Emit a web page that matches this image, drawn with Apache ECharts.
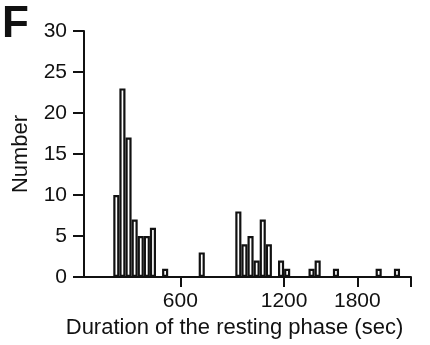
<!DOCTYPE html>
<html>
<head>
<meta charset="utf-8">
<script src="https://cdn.jsdelivr.net/npm/echarts@6/dist/echarts.min.js"></script>
<style>
html,body{margin:0;padding:0;background:#fff;}
#chart{width:430px;height:345px;}
</style>
</head>
<body>
<div id="chart"></div>
<script>
// Histogram bins (index of each bin along the duration axis) and counts
const binIndex = [0,1,2,3,4,5,6,7,8,9,10,11,12,13,14,15,16,17,18,19,20,21,22,23,24,25,26,27,28,29,30,31,32,33,34,35,36,37,38,39,40,41,42,43,44,45,46];
const counts   = [10,23,17,7,5,5,6,0,1,0,0,0,0,0,3,0,0,0,0,0,8,4,5,2,7,4,0,2,1,0,0,0,1,2,0,0,1,0,0,0,0,0,0,1,0,0,1];
// x tick positions (in bin units) and their labels
const xTickBins = [11, 28, 40];
const xTickLabels = ['600', '1200', '1800'];
const yTicks = [0, 5, 10, 15, 20, 25, 30];

const FONT = "'Liberation Sans', Arial, Helvetica, sans-serif";
const INK = '#111';

const barData = binIndex.map((b, i) => [b + 0.5, counts[i] === 0 ? null : counts[i]]);

const chart = echarts.init(document.getElementById('chart'));
chart.setOption({
  backgroundColor: '#fff',
  animation: false,
  graphic: [{
    type: 'text', left: 2, top: 3,
    style: { text: 'F', font: "bold 44px " + FONT, fill: INK }
  }],
  grid: { left: 84, right: 19, top: 31, bottom: 68, outerBoundsMode: 'none', containLabel: false },
  xAxis: {
    type: 'value',
    min: -4.8, max: 48.8,
    name: 'Duration of the resting phase (sec)',
    nameLocation: 'middle',
    nameGap: 39,
    nameTextStyle: { fontFamily: FONT, fontSize: 22, color: INK, padding: [0, 26, 0, 0] },
    axisLine: { show: true, onZero: false, lineStyle: { color: INK, width: 2 } },
    axisTick: { show: true, length: 10, customValues: xTickBins.concat([48.8]), lineStyle: { color: INK, width: 2 } },
    axisLabel: {
      customValues: xTickBins,
      fontFamily: FONT, fontSize: 21, color: INK, margin: 14,
      formatter: v => { const i = xTickBins.indexOf(v); return i >= 0 ? xTickLabels[i] : ''; }
    },
    splitLine: { show: false }
  },
  yAxis: {
    type: 'value',
    min: yTicks[0], max: yTicks[yTicks.length - 1], interval: 5,
    name: 'Number',
    nameLocation: 'middle',
    nameRotate: 90,
    nameGap: 52,
    nameTextStyle: { fontFamily: FONT, fontSize: 22, color: INK },
    axisLine: { show: true, onZero: false, lineStyle: { color: INK, width: 2 } },
    axisTick: { show: true, length: 11, lineStyle: { color: INK, width: 2 } },
    axisLabel: { fontFamily: FONT, fontSize: 21, color: INK, margin: 17 },
    splitLine: { show: false }
  },
  series: [{
    type: 'bar',
    data: barData,
    barWidth: 6,
    itemStyle: { color: '#fff', borderColor: INK, borderWidth: 2.2 }
  }]
});
// bar width = one bin on the x scale
const unitPx = chart.convertToPixel({ xAxisIndex: 0 }, 1) - chart.convertToPixel({ xAxisIndex: 0 }, 0);
if (isFinite(unitPx) && unitPx > 0) chart.setOption({ series: [{ barWidth: unitPx }] });
</script>
</body>
</html>
